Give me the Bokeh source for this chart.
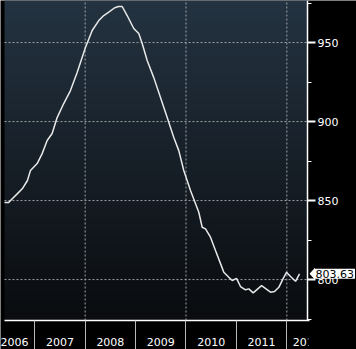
import numpy as np
from bokeh.plotting import figure
from bokeh.models import (FixedTicker, LinearAxis, Range1d, Label, PolyAnnotation,
                          BoxAnnotation)
from bokeh.embed import file_html
from bokeh.resources import INLINE

# ---- data ----
years = [2006.399, 2006.479, 2006.559, 2006.657, 2006.756, 2006.855, 2006.915,
         2007.048, 2007.147, 2007.246, 2007.345, 2007.444, 2007.575, 2007.708,
         2007.841, 2008.006, 2008.139, 2008.270, 2008.369, 2008.468, 2008.587,
         2008.661, 2008.734, 2008.833, 2008.964, 2009.063, 2009.131, 2009.230,
         2009.361, 2009.494, 2009.627, 2009.758, 2009.857, 2009.956, 2010.089,
         2010.254, 2010.321, 2010.387, 2010.486, 2010.585, 2010.685, 2010.750,
         2010.849, 2010.917, 2011.002, 2011.081, 2011.180, 2011.246, 2011.333,
         2011.498, 2011.677, 2011.756, 2011.841, 2011.929, 2011.994, 2012.073,
         2012.173, 2012.252]
values = [848.7, 848.7, 851.3, 854.4, 857.6, 862.7, 869.0,
          873.4, 879.7, 888.0, 892.4, 902.5, 911.4, 919.6,
          931.0, 946.8, 957.6, 963.9, 967.1, 969.2, 972.0,
          972.8, 972.8, 967.1, 958.9, 955.7, 949.4, 938.6,
          927.8, 915.2, 902.5, 889.9, 881.6, 869.0, 856.3,
          842.6, 833.1, 832.1, 826.8, 818.4, 810.1, 804.6,
          801.5, 799.4, 800.8, 795.6, 793.5, 794.1, 791.6,
          796.2, 792.0, 792.4, 795.1, 800.8, 804.6, 801.9,
          798.9, 803.63]
last_value = 803.63
year_bounds = [2007, 2008, 2009, 2010, 2011, 2012]
year_label_pos = [2006.585, 2007.5, 2008.5, 2009.5, 2010.5, 2011.5, 2012.397]
year_labels = ["2006", "2007", "2008", "2009", "2010", "2011", "2012"]
x_grid = [2008, 2010, 2012]
y_ticks = [800, 850, 900, 950]
y_minor = [775, 825, 875, 925, 975]

# plotting area (data limits) and pixel scale
X0, X1 = 2006.40, 2012.41
Y0, Y1 = 774.1, 976.6
FW, FH = 303, 320
dx = (X1 - X0) / FW
dy = (Y1 - Y0) / FH
LEFT, RIGHT, BOTTOM = 4, 49, 29

p = figure(width=356, height=349, output_backend="svg", toolbar_location=None,
           x_range=Range1d(X0 - LEFT * dx, X1 + RIGHT * dx),
           y_range=Range1d(Y0 - BOTTOM * dy, Y1),
           x_axis_location=None, y_axis_location=None,
           min_border=0)
p.border_fill_color = "black"
p.background_fill_color = "black"
p.outline_line_color = None
p.xgrid.visible = False
p.ygrid.visible = False

# background gradient of the plotting area
n = 64
top = np.array([0x24, 0x33, 0x41], dtype=float)
bot = np.array([0x0a, 0x0c, 0x0f], dtype=float)
t = np.linspace(0, 1, n)[:, None]
cols = (bot * (1 - t) + top * t).astype(np.uint32)
img = (0xFF << 24) | (cols[:, 2] << 16) | (cols[:, 1] << 8) | cols[:, 0]
img = img.reshape(n, 1).astype(np.uint32)
p.image_rgba(image=[img], x=X0, y=Y0, dw=X1 - X0, dh=Y1 - Y0)

# dashed grid
grid_style = dict(line_color="#9ea3a8", line_dash="2 2", line_width=1)
p.segment(x0=x_grid, x1=x_grid, y0=[Y0] * len(x_grid), y1=[Y1] * len(x_grid), **grid_style)
p.segment(x0=[X0] * len(y_ticks), x1=[X1] * len(y_ticks), y0=y_ticks, y1=y_ticks, **grid_style)

p.line(years, values, line_color="#e8e8e8", line_width=1.5)

# bottom axis (year separators as minor ticks, labels mid-year)
xa = LinearAxis(ticker=FixedTicker(ticks=year_label_pos, minor_ticks=year_bounds),
                major_label_overrides={pos: lab for pos, lab in zip(year_label_pos, year_labels)},
                fixed_location=Y0, bounds=(X0, X1 + 1.5 * dx))
xa.axis_line_color = "white"
xa.axis_line_width = 1.5
xa.major_tick_out = 0
xa.major_tick_in = 0
xa.minor_tick_out = 29
xa.minor_tick_in = 0
xa.minor_tick_line_color = "#b8b8b8"
xa.major_label_standoff = -12
xa.major_label_text_color = "white"
xa.major_label_text_font = "DejaVu Sans"
xa.major_label_text_font_size = "11px"
p.add_layout(xa, "below")

# right axis
ya = LinearAxis(ticker=FixedTicker(ticks=y_ticks, minor_ticks=y_minor),
                fixed_location=X1, bounds=(Y0, Y1))
ya.axis_line_color = "white"
ya.axis_line_width = 1.5
ya.major_tick_out = 8
ya.major_tick_in = 0
ya.major_tick_line_width = 2
ya.major_tick_line_color = "white"
ya.minor_tick_out = 4
ya.minor_tick_in = 0
ya.minor_tick_line_color = "white"
ya.major_label_standoff = 2
ya.major_label_text_color = "white"
ya.major_label_text_font = "DejaVu Sans"
ya.major_label_text_font_size = "11px"
p.add_layout(ya, "right")

# hide the part of the last year label right of the plotting area
p.add_layout(BoxAnnotation(left=X1 + 1 * dx, right=X1 + RIGHT * dx, top=Y0 - 1.5 * dy,
                           bottom=Y0 - BOTTOM * dy, fill_color="black", fill_alpha=1,
                           line_color=None))

# last value tag
p.add_layout(PolyAnnotation(xs=[X1 + 2 * dx, X1 + 7.5 * dx, X1 + 7.5 * dx],
                            ys=[last_value, last_value + 6 * dy, last_value - 6 * dy],
                            fill_color="white", fill_alpha=1, line_color=None))
p.add_layout(Label(x=X1, y=last_value, x_offset=7, text=f"{last_value:.2f}",
                   text_baseline="middle", text_align="left", text_color="black",
                   text_font="DejaVu Sans", text_font_size="11px",
                   background_fill_color="white", background_fill_alpha=1,
                   padding=1))

open("out.html", "w").write(file_html(p, INLINE))
